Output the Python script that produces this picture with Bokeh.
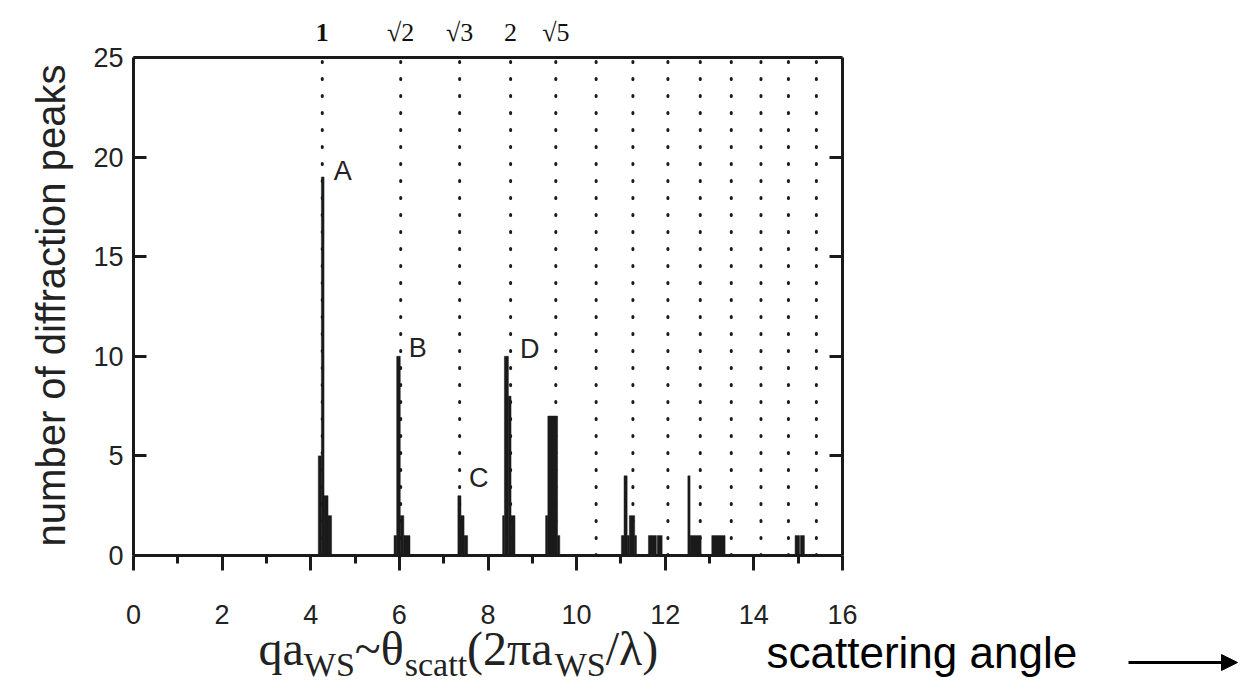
from bokeh.plotting import figure
from bokeh.models import Range1d, FixedTicker, LinearAxis, Label, Arrow, NormalHead
from bokeh.embed import file_html
from bokeh.resources import INLINE

# ---- data ----
BAR_LEFT = [4.17, 4.24, 4.30, 4.39,
            5.88, 5.94, 6.02, 6.10,
            7.32, 7.39, 7.46,
            8.33, 8.37, 8.46, 8.52,
            9.30, 9.35, 9.57,
            11.01, 11.07, 11.14, 11.19, 11.31,
            11.62, 11.82,
            12.51, 12.56,
            13.05,
            14.93, 15.05]
BAR_RIGHT = [4.24, 4.30, 4.39, 4.47,
             5.94, 6.02, 6.10, 6.24,
             7.39, 7.46, 7.54,
             8.37, 8.46, 8.52, 8.61,
             9.35, 9.57, 9.62,
             11.07, 11.14, 11.19, 11.31, 11.35,
             11.80, 11.93,
             12.56, 12.81,
             13.35,
             15.03, 15.14]
BAR_COUNT = [5, 19, 3, 2,
             1, 10, 2, 1,
             3, 2, 1,
             2, 10, 8, 2,
             2, 7, 1,
             1, 4, 1, 2, 1,
             1, 1,
             4, 1,
             1,
             1, 1]

SHELL_Q = [4.26, 6.03, 7.36, 8.51, 9.53, 10.44, 11.27, 12.06, 12.79, 13.49, 14.16, 14.78, 15.41]
SHELL_LABELS = ["1", "√2", "√3", "2", "√5"]

PEAK_NAMES = ["A", "B", "C", "D"]
PEAK_X = [4.52, 6.21, 7.57, 8.72]
PEAK_Y = [19.3, 10.4, 3.9, 10.35]

X_TICKS = [0, 2, 4, 6, 8, 10, 12, 14, 16]
X_MINOR = [1, 3, 5, 7, 9, 11, 13, 15]
Y_TICKS = [0, 5, 10, 15, 20, 25]
Y_RIGHT_TICKS = [5, 10, 15, 20]

X_LO, X_HI = 0, 16
Y_LO, Y_HI = 0, 25

INK = "#1a1a1a"

# The plotting frame spans the whole canvas; the visible box is drawn with
# axes fixed at data locations so that all surrounding texts stay inside the frame.
W, H = 1249, 689
BOX_L, BOX_R, BOX_T, BOX_B = 133, 842, 57, 555   # pixel box of the data area
sx = (BOX_R - BOX_L) / (X_HI - X_LO)
sy = (BOX_B - BOX_T) / (Y_HI - Y_LO)
x_range = Range1d(X_LO - BOX_L / sx, X_HI + (W - BOX_R) / sx)
y_range = Range1d(Y_LO - (H - BOX_B) / sy, Y_HI + BOX_T / sy)


def px_x(px):
    return X_LO + (px - BOX_L) / sx


def px_y(py):
    return Y_LO + (BOX_B - py) / sy


p = figure(width=W, height=H, min_border=0,
           x_range=x_range, y_range=y_range,
           x_axis_location=None, y_axis_location=None,
           output_backend="svg", toolbar_location=None,
           background_fill_color="white", border_fill_color="white")
p.grid.visible = False
p.outline_line_color = None


def style_axis(ax):
    ax.axis_line_width = 3
    ax.axis_line_color = INK
    ax.major_tick_line_width = 3
    ax.minor_tick_line_width = 3
    ax.major_tick_line_color = INK
    ax.minor_tick_line_color = INK
    ax.major_label_text_font = "Liberation Sans"
    ax.major_label_text_font_size = "27px"
    ax.major_label_text_color = "#222222"


# bottom x axis
xa = LinearAxis(fixed_location=Y_LO, bounds=(X_LO, X_HI),
                ticker=FixedTicker(ticks=X_TICKS, minor_ticks=X_MINOR))
style_axis(xa)
xa.major_tick_out = 15
xa.major_tick_in = 0
xa.minor_tick_out = 8
xa.minor_tick_in = 0
xa.major_label_standoff = 34
p.add_layout(xa, "below")

# top frame line
ta = LinearAxis(fixed_location=Y_HI, bounds=(X_LO, X_HI),
                ticker=FixedTicker(ticks=[], minor_ticks=[]))
style_axis(ta)
ta.major_label_text_color = None
p.add_layout(ta, "above")

# left y axis (ticks pointing inward)
ya = LinearAxis(fixed_location=X_LO, bounds=(Y_LO, Y_HI),
                ticker=FixedTicker(ticks=Y_TICKS, minor_ticks=[]))
style_axis(ya)
ya.major_tick_in = 13
ya.major_tick_out = 0
ya.minor_tick_line_color = None
ya.major_label_standoff = 10
p.add_layout(ya, "left")

# right frame with inward ticks
ra = LinearAxis(fixed_location=X_HI, bounds=(Y_LO, Y_HI),
                ticker=FixedTicker(ticks=Y_RIGHT_TICKS, minor_ticks=[]))
style_axis(ra)
ra.major_tick_in = 13
ra.major_tick_out = 0
ra.minor_tick_line_color = None
ra.major_label_text_color = None
p.add_layout(ra, "right")

# dotted shell lines
p.segment(x0=SHELL_Q, y0=[Y_LO] * len(SHELL_Q), x1=SHELL_Q, y1=[Y_HI] * len(SHELL_Q),
          line_color=INK, line_width=3, line_dash="1 16", line_cap="round")

# histogram bars
p.quad(left=BAR_LEFT, right=BAR_RIGHT, bottom=0, top=BAR_COUNT,
       fill_color=INK, line_color=INK, line_width=0.5)

# peak letters
for name, qx, qy in zip(PEAK_NAMES, PEAK_X, PEAK_Y):
    p.add_layout(Label(x=qx, y=qy, text=name, text_font="Liberation Sans",
                       text_font_size="27px", text_color="#222222",
                       text_baseline="middle", text_align="left"))

# shell labels above the box
for q, lab in zip(SHELL_Q, SHELL_LABELS):
    p.add_layout(Label(x=q, y=px_y(32), text=lab, text_font="Liberation Serif",
                       text_font_size="26px", text_color="#111111",
                       text_font_style="bold" if lab == "1" else "normal",
                       text_baseline="middle", text_align="center"))

# y axis title
p.add_layout(Label(x=px_x(50), y=px_y(305), text="number of diffraction peaks", angle=90,
                   angle_units="deg", text_font="Liberation Sans",
                   text_font_size="40px", text_color="#222222",
                   text_baseline="middle", text_align="center"))

# x axis title built from pieces (main text + subscripts), placed left to right
MAIN_FS, SUB_FS = 48, 34
pieces = [("qa", False, 0.944), ("WS", True, 1.5), ("~θ", False, 1.041),
          ("scatt", True, 1.833), ("(2πa", False, 1.826), ("WS", True, 1.5),
          ("/λ)", False, 1.16)]
cur = 258.0
for txt, is_sub, em in pieces:
    fs = SUB_FS if is_sub else MAIN_FS
    mid = 664 if is_sub else 648
    p.add_layout(Label(x=px_x(cur), y=px_y(mid), text=txt, text_font="Liberation Serif",
                       text_font_size=f"{fs}px", text_color="#222222",
                       text_baseline="middle", text_align="left"))
    cur += em * fs

# scattering angle with arrow
p.add_layout(Label(x=px_x(766), y=px_y(652), text="scattering angle",
                   text_font="Liberation Sans", text_font_size="44px",
                   text_color="#000000", text_baseline="middle", text_align="left"))
p.add_layout(Arrow(x_start=px_x(1128), y_start=px_y(662), x_end=px_x(1237), y_end=px_y(662),
                   line_width=3, line_color="#000000",
                   end=NormalHead(size=16, fill_color="#000000", line_color="#000000")))

open("out.html", "w").write(file_html(p, INLINE))
